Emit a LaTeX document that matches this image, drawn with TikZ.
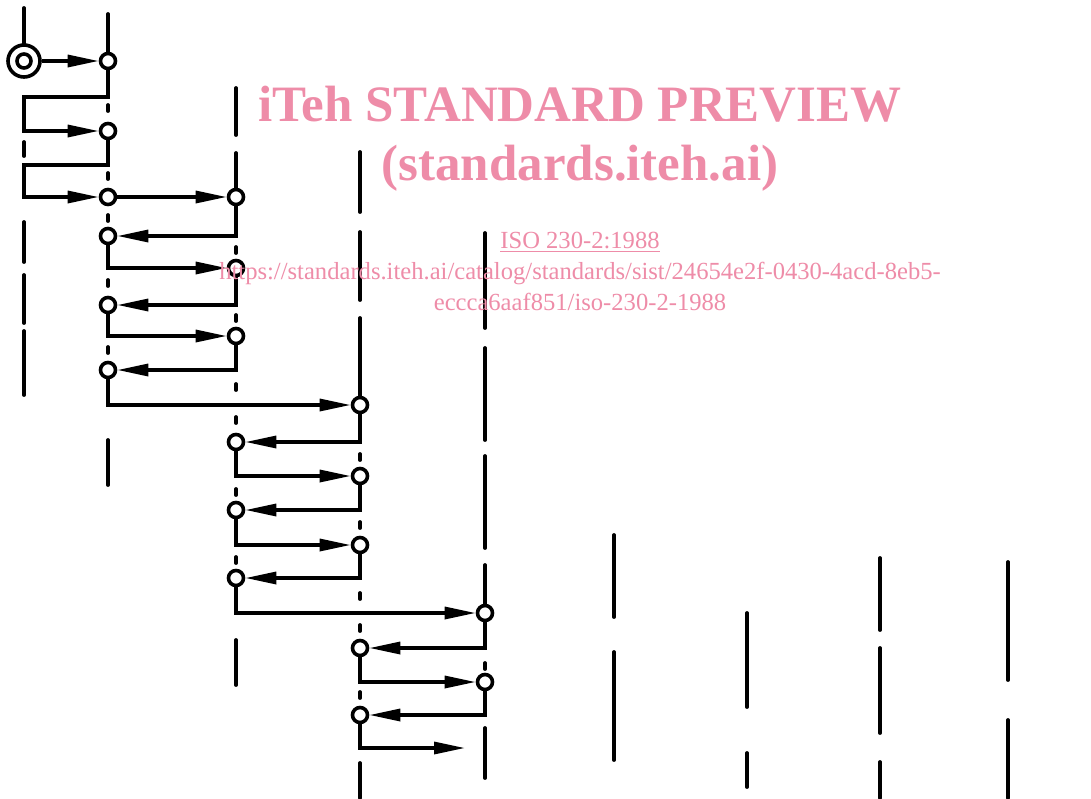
\documentclass[tikz,border=0pt]{standalone}
\usepackage{fontspec}
\setmainfont{Liberation Serif}
\usetikzlibrary{arrows.meta}
\definecolor{isopink}{RGB}{238,140,168}

\begin{document}
\begin{tikzpicture}[
    x=1pt, y=-1pt,
    axis/.style={line width=3.8pt, line cap=round},
    ring/.style={circle, draw, fill=white, line width=3.6pt,
                 minimum size=15pt, inner sep=0pt},
    origin/.style={ring, minimum size=32pt},
    flow/.style={line width=3.3pt, -{Triangle[length=31pt, width=12pt]}},
    wm/.style={text=isopink, inner sep=0pt, anchor=base},
    bigwm/.style={wm, font=\fontsize{51}{51}\selectfont\bfseries},
    smallwm/.style={wm, font=\fontsize{24.6}{25}\selectfont},
]

\useasboundingbox (0,0) rectangle (1091,798);

% ================================================================
% CENTRE LINES (long dash / dot, one per column)
% ================================================================
\foreach \x/\ya/\yb in {
  24/8/47, 24/142/156, 24/222/262, 24/275/323, 24/331/395,
  108/14/55, 108/105/111, 108/173/179, 108/215/221, 108/280/286,
  108/347/353, 108/440/485,
  236/88/135, 236/153/197, 236/247/253, 236/315/321, 236/384/390,
  236/417/423, 236/489/495, 236/557/563, 236/640/685,
  360/152/212, 360/232/300, 360/318/405, 360/454/460, 360/522/528,
  360/593/599, 360/625/631, 360/692/698, 360/763/798,
  485/233/328, 485/348/440, 485/456/548, 485/565/613, 485/663/669,
  485/728/778,
  614/535/617, 614/652/760,
  747/613/707, 747/753/787,
  880/558/630, 880/648/733, 880/762/798,
  1008/562/680, 1008/720/798}
  \draw[axis] (\x,\ya) -- (\x,\yb);

% ================================================================
% STOPS (open circles) and start symbol
% ================================================================
\node[origin] (s) at (24,61) {};
\draw[line width=3.6pt] (s.center) circle[radius=7pt];

\foreach \n/\x/\y in {
  a1/108/61, a2/108/131, a3/108/197,
  b1/236/197, a4/108/236, b2/236/268, a5/108/305, b3/236/336, a6/108/370,
  c1/360/405, b4/236/442, c2/360/476, b5/236/510, c3/360/545, b6/236/578,
  d1/485/613, c4/360/648, d2/485/682, c5/360/715}
  \node[ring] (\n) at (\x,\y) {};

\coordinate (k1) at (24,97);
\coordinate (k2) at (24,165);
\coordinate (fin) at (465,748);

% ================================================================
% PATH
% ================================================================
\draw[flow] (s) -- (a1);
\draw[flow] (a1) |- (k1) |- (a2);
\draw[flow] (a2) |- (k2) |- (a3);
\draw[flow] (a3) -- (b1);

\foreach \u/\v in {b1/a4, a4/b2, b2/a5, a5/b3, b3/a6, a6/c1,
                   c1/b4, b4/c2, c2/b5, b5/c3, c3/b6, b6/d1,
                   d1/c4, c4/d2, d2/c5, c5/fin}
  \draw[flow] (\u) |- (\v);

% ================================================================
% WATERMARK
% ================================================================
\node[bigwm] (title) at (580,121) {iTeh STANDARD PREVIEW};
\node[bigwm] (site) at (580,180) {(standards.iteh.ai)};
\node[smallwm] (isoref) at (580,248) {ISO 230-2:1988};
\draw[isopink, line width=1.4pt]
  ([yshift=-3.5pt]isoref.base west) -- ([yshift=-3.5pt]isoref.base east);
\node[smallwm] (urlone) at (580,279)
  {https://standards.iteh.ai/catalog/standards/sist/24654e2f-0430-4acd-8eb5-};
\node[smallwm] (urltwo) at (580,310) {eccca6aaf851/iso-230-2-1988};

\end{tikzpicture}
\end{document}
